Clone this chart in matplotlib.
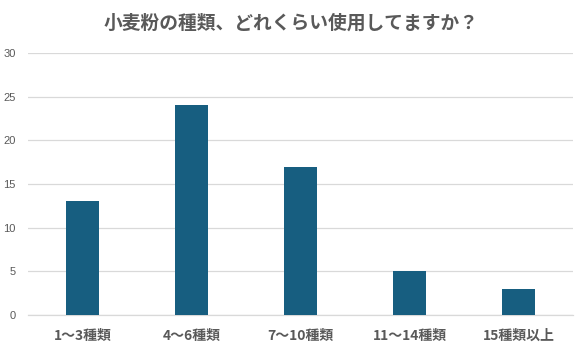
import matplotlib
matplotlib.use("Agg")
import matplotlib.pyplot as plt

plt.rcParams['font.family'] = ['Noto Sans CJK JP', 'DejaVu Sans']

categories = ["1〜3種類", "4〜6種類", "7〜10種類", "11〜14種類", "15種類以上"]
values = [13, 24, 17, 5, 3]
yticks = [0, 5, 10, 15, 20, 25, 30]
title = "小麦粉の種類、どれくらい使用してますか？"

fig = plt.figure(figsize=(5.83, 3.57), dpi=100)
ax = fig.add_axes([28/583, 1 - 315/357, (573-28)/583, (315-53)/357])

x = range(len(categories))
ax.bar(x, values, width=0.31, color="#175e80", zorder=3)
ax.set_xlim(-0.5, len(categories) - 0.5)
ax.set_ylim(0, 30)
ax.set_yticks(yticks)
ax.set_yticklabels([str(v) for v in yticks], fontsize=8, color="#595959", family=['Liberation Sans', 'DejaVu Sans'])
ax.set_xticks(list(x))
ax.set_xticklabels(categories, fontsize=10, fontweight='bold', color="#595959")
ax.tick_params(axis='both', length=0)
ax.tick_params(axis='y', pad=9)
ax.tick_params(axis='x', pad=10)
ax.grid(axis='y', color="#d9d9d9", linewidth=0.9, zorder=0)
for s in ['top', 'right', 'left']:
    ax.spines[s].set_visible(False)
ax.spines['bottom'].set_color("#d9d9d9")
ax.spines['bottom'].set_linewidth(0.9)

fig.text(0.5, 1 - 23/357, title, ha='center', va='center', fontsize=13.5,
         fontweight='bold', color="#595959")

fig.savefig("out.png", dpi=100)
